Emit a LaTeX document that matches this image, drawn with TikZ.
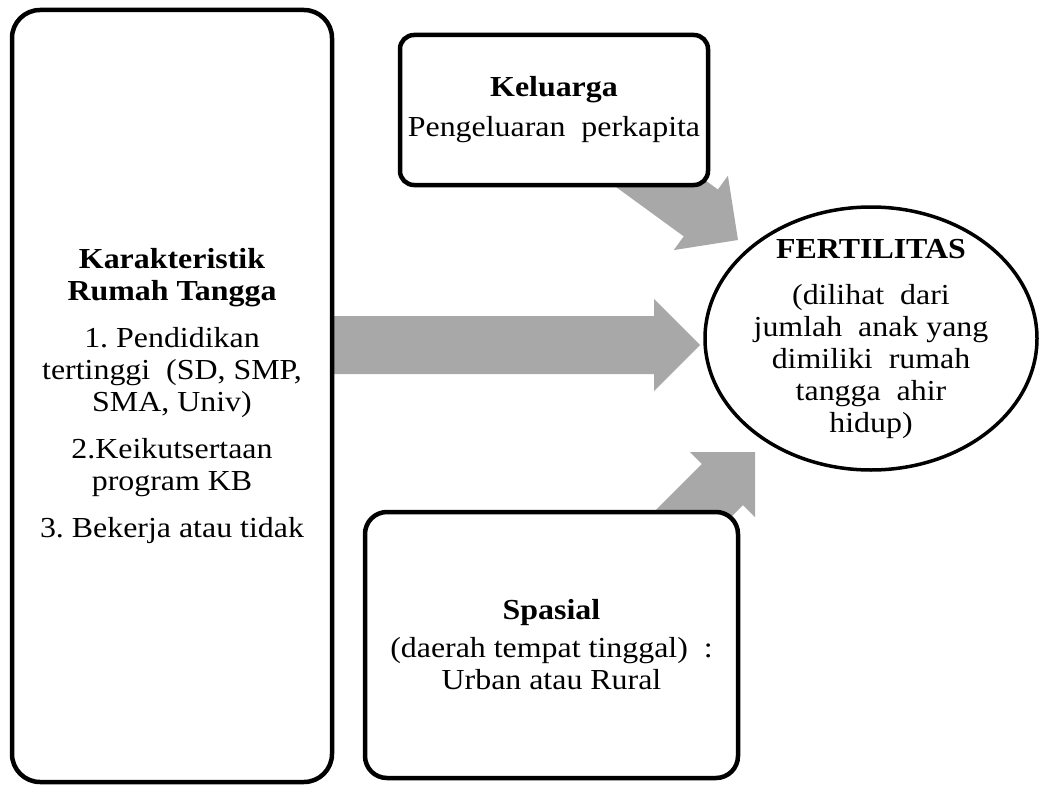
\documentclass[tikz,border=0pt]{standalone}
\usepackage{fontspec}
\setmainfont{Liberation Serif}[FakeStretch=1.1]
\usetikzlibrary{calc,shapes.geometric}
\definecolor{arrowgray}{HTML}{A8A8A8}
\frenchspacing
\newcommand\blockarrow[2]{%
  \coordinate (ba-h) at ($(#2)!46pt!(#1)$);
  \fill[arrowgray] ($(#1)!29pt!90:(#2)$) -- ($(ba-h)!29pt!90:(#2)$) -- ($(ba-h)!46pt!90:(#2)$) -- (#2)
    -- ($(ba-h)!46pt!-90:(#2)$) -- ($(ba-h)!29pt!-90:(#2)$) -- ($(#1)!29pt!-90:(#2)$) -- cycle;}
\begin{document}
\begin{tikzpicture}[x=1pt,y=-1pt,font=\fontsize{29}{32}\selectfont,
  box/.style={draw, line width=4.5pt, rounded corners=#1, fill=white, align=center, inner sep=0pt},
  box/.default=20pt,
  txt/.style={align=center, inner sep=0pt}]
\useasboundingbox (0,0) rectangle (1039,792);
% arrow ends
\coordinate (a1s) at (576,122); \coordinate (a1t) at (738,240);
\coordinate (a2s) at (300,345); \coordinate (a2t) at (700,345);
\coordinate (a3s) at (614,593); \coordinate (a3t) at (755,452);
\blockarrow{a1s}{a1t}
\blockarrow{a2s}{a2t}
\blockarrow{a3s}{a3t}
% boxes
\node[box=28pt, minimum width=320pt, minimum height=772pt] (rt) at (172,396)
  {\textbf{Karakteristik}\\ \textbf{Rumah Tangga}\\[15pt]
   1. Pendidikan\\ tertinggi~ (SD, SMP,\\ SMA, Univ)\\[15pt]
   2.Keikutsertaan\\ program KB\\[15pt]
   3. Bekerja atau tidak};
\node[box=14pt, minimum width=308pt, minimum height=150pt] (kel) at (554,110)
  {\textbf{Keluarga}\\[8pt] Pengeluaran~ perkapita};
\node[box=22pt, minimum width=373pt, minimum height=266pt] (spa) at (551.5,645)
  {\textbf{Spasial}\\[6pt] (daerah tempat tinggal)~ :\\ Urban atau Rural};
\node[draw, ellipse, line width=3.5pt, fill=white, minimum width=332pt, minimum height=263pt, inner sep=0pt] (fert) at (871,338.5) {};
\node[txt] (fertt) at (fert.center)
  {\textbf{FERTILITAS}\\[14pt] (dilihat~ dari\\ jumlah~ anak yang\\ dimiliki~ rumah\\ tangga~ ahir\\ hidup)};
\end{tikzpicture}
\end{document}
